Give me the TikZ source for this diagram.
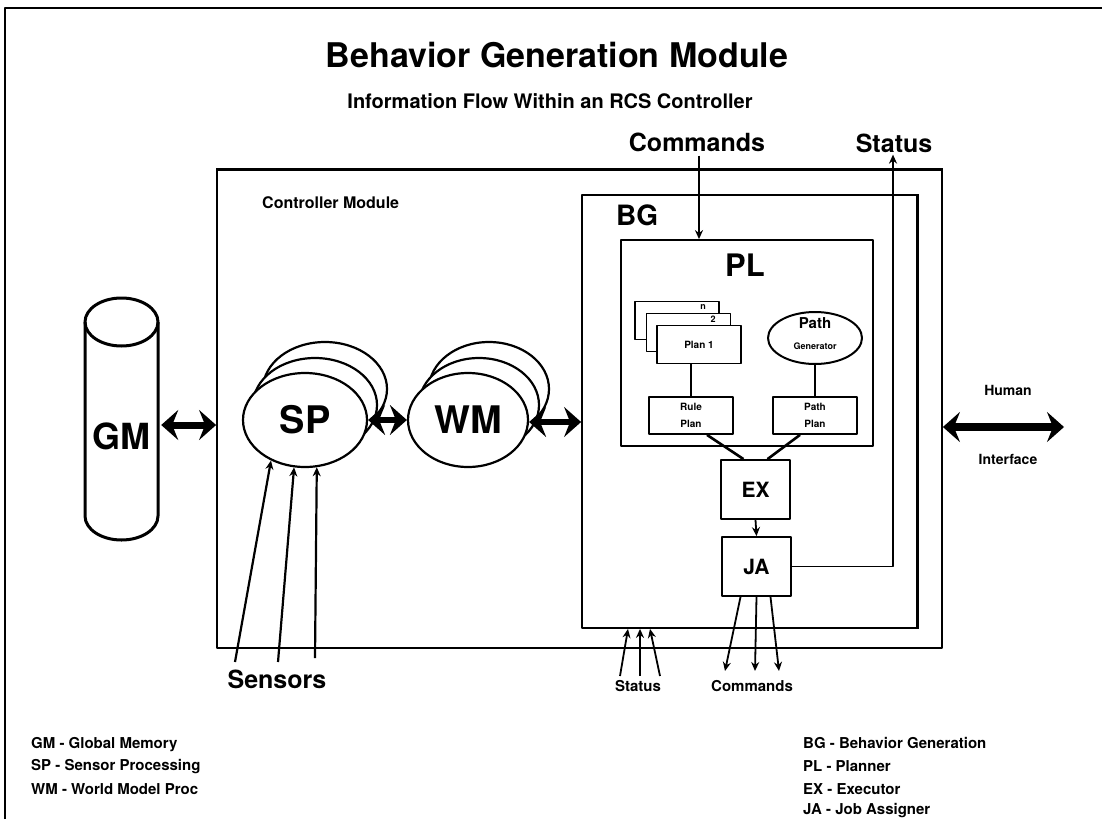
\documentclass[tikz,border=0pt]{standalone}
\usepackage{fontspec}
\setmainfont{TeX Gyre Heros}
\usetikzlibrary{arrows.meta,shapes.geometric,calc}
\newcommand{\hv}[1]{\fontsize{#1}{#1}\selectfont\bfseries}

\begin{document}
\begin{tikzpicture}[x=1pt,y=-1pt, line join=round,
  box/.style={draw, line width=1.8pt, inner sep=0pt, fill=white},
  blob/.style={ellipse, draw, line width=2.2pt, fill=white, inner sep=0pt},
  plainlbl/.style={inner sep=0pt},
  legend/.style={inner sep=0pt, anchor=west, font=\hv{15}},
  thinarrow/.style={line width=1.8pt, -{Stealth[length=9pt,width=8pt]}},
  link/.style={line width=2.6pt},
  fatarrow/.style={line width=7pt, {Stealth[length=17pt,width=30pt,inset=6pt]}-{Stealth[length=17pt,width=30pt,inset=6pt]}},
]
% canvas
\fill[white] (0,0) rectangle (1102,819);
\useasboundingbox (0,0) rectangle (1102,819);
\draw[line width=1.4pt] (5,819) -- (5,8) -- (1102,8);

% titles
\node[plainlbl, font=\hv{34}] (title) at (557,55) {Behavior Generation Module};
\node[plainlbl, font=\hv{20}] (subtitle) at (550,101) {Information Flow Within an RCS Controller};

% controller module frame
\node[box, fill=none, minimum width=725pt, minimum height=478pt] (ctrl) at (579.5,409) {};
\draw[line width=2.8pt] (ctrl.north west) -- (ctrl.north east);
\node[plainlbl, font=\hv{16}, anchor=west] (ctrllbl) at (262,203) {Controller Module};

% behaviour generation box
\node[box, minimum width=335pt, minimum height=433pt] (bg) at (749.5,411.5) {};
\draw[line width=2.6pt] (bg.north east) -- (bg.south east);
\node[plainlbl, font=\hv{28}, anchor=west] (bglbl) at (616,215) {BG};

% planner
\node[box, minimum width=252pt, minimum height=206pt] (pl) at (747,343) {};
\node[plainlbl, font=\hv{31}] (pllbl) at (745,265) {PL};

% stacked plans
\node[box, minimum width=84pt, minimum height=38pt] (plann) at (677,320.5) {};
\node[box, minimum width=84pt, minimum height=38pt] (plan2) at (688.5,332.5) {};
\node[box, minimum width=84pt, minimum height=38pt, font=\hv{10}] (plan1) at (699,344.5) {Plan 1};
\node[plainlbl, font=\hv{9}] (nlbl) at (703,307) {n};
\node[plainlbl, font=\hv{9}] (twolbl) at (713,319) {2};

% path generator
\node[blob, line width=2pt, minimum width=94pt, minimum height=52pt] (pathgen) at (815,338) {};
\node[plainlbl, font=\hv{15}] (pathgenA) at (815,323) {Path};
\node[plainlbl, font=\hv{9}] (pathgenB) at (815,346) {Generator};

% plan boxes
\node[box, minimum width=84pt, minimum height=37pt, align=center, font=\hv{10}] (rule) at (691,415.5) {Rule\\[7pt]Plan};
\node[box, minimum width=84pt, minimum height=37pt, align=center, font=\hv{10}] (pathplan) at (815,415.5) {Path\\[7pt]Plan};
\draw[link] (rule.north) -- (rule.north |- plan1.south);
\draw[link] (pathplan.north) -- (pathgen.south);

% executor and job assigner
\node[box, minimum width=69pt, minimum height=59pt, font=\hv{21}] (ex) at (755.5,489.5) {EX};
\node[box, minimum width=69pt, minimum height=59pt, font=\hv{21}] (ja) at (756.5,566.5) {JA};
\draw[link] ($(rule.south)+(16,0)$) -- ($(ex.north)+(-12,0)$);
\draw[link] ($(pathplan.south)+(-15,0)$) -- ($(ex.north)+(12,0)$);
\draw[thinarrow] (ex.south) -- (ja.north);

% commands in, status out at the top
\node[plainlbl, font=\hv{25}] (cmdtop) at (697,142) {Commands};
\node[plainlbl, font=\hv{25}] (stattop) at (894,143) {Status};
\coordinate (cmdin) at ($(cmdtop.south)+(2,4)$);
\draw[thinarrow] (cmdin) -- (cmdin |- pl.north);
\coordinate (statup) at ($(stattop.south)+(-1,2)$);
\draw[thinarrow] (ja.east) -| (statup);

% global memory cylinder
\node[minimum width=73pt, minimum height=230pt, inner sep=0pt] (gm) at (121.5,425) {};
\draw[line width=3pt, fill=white] (85,322) -- (85,516) arc[start angle=180, end angle=360, x radius=36.5pt, y radius=24pt] -- (158,322);
\draw[line width=3pt] (121.5,322) ellipse[x radius=36.5pt, y radius=24pt];
\node[plainlbl, font=\hv{36}] (gmlbl) at (121,436) {GM};
\draw[fatarrow] ($(gm.east)+(3,0)$) -- (gm.east -| ctrl.west);

% sensor processing
\node[blob, minimum width=124pt, minimum height=94pt] (sp3) at (325,389) {};
\node[blob, minimum width=124pt, minimum height=94pt] (sp2) at (315,405) {};
\node[blob, minimum width=124pt, minimum height=94pt, font=\hv{38}] (sp) at (305,420) {SP};

% world model
\node[blob, minimum width=120pt, minimum height=94pt] (wm3) at (489,389) {};
\node[blob, minimum width=120pt, minimum height=94pt] (wm2) at (479,405) {};
\node[blob, minimum width=120pt, minimum height=94pt, font=\hv{38}] (wm) at (468,420) {WM};

\draw[fatarrow, line width=6pt] (sp.east) -- (wm.west);
\coordinate (wmout) at ($(wm.east)+(0,2)$);
\draw[fatarrow, line width=6pt] (wmout) -- (wmout -| bg.west);

% sensors
\coordinate (s1) at (235,662);
\coordinate (s2) at (278,662);
\coordinate (s3) at (315,658);
\draw[thinarrow, line width=2.2pt] (s1) -- (sp.230);
\draw[thinarrow, line width=2.2pt] (s2) -- (sp.257);
\draw[thinarrow, line width=2.2pt] (s3) -- (sp.284);
\node[plainlbl, font=\hv{25}] (sensors) at (277,679) {Sensors};

% status from below
\coordinate (b1) at (620,676);
\coordinate (b2) at (640,676);
\coordinate (b3) at (660,676);
\draw[thinarrow] (b1) -- (628,0 |- bg.south);
\draw[thinarrow] (b2) -- (640,0 |- bg.south);
\draw[thinarrow] (b3) -- (650,0 |- bg.south);
\node[plainlbl, font=\hv{15}] (statbot) at (638,686) {Status};

% commands to below
\coordinate (c1) at (725,671);
\coordinate (c2) at (755,671);
\coordinate (c3) at (779,671);
\draw[thinarrow] ($(ja.south)+(-16,0)$) -- (c1);
\draw[thinarrow] (ja.south) -- (c2);
\draw[thinarrow] ($(ja.south)+(14,0)$) -- (c3);
\node[plainlbl, font=\hv{15}] (cmdbot) at (752,686) {Commands};

% human interface
\coordinate (hi) at (1064,427);
\draw[fatarrow, line width=8pt] (ctrl.east |- hi) -- (hi);
\node[plainlbl, font=\hv{14}] (human) at (1008,390) {Human};
\node[plainlbl, font=\hv{14}] (iface) at (1008,459) {Interface};

% legends
\node[legend] (lgm) at (31,745) {GM - Global Memory};
\node[legend] (lsp) at (31,767) {SP - Sensor Processing};
\node[legend] (lwm) at (31,789) {WM - World Model Proc};
\node[legend] (lbg) at (803,743) {BG - Behavior Generation};
\node[legend] (lpl) at (803,766) {PL - Planner};
\node[legend] (lex) at (803,789) {EX - Executor};
\node[legend] (lja) at (803,811) {JA - Job Assigner};
\end{tikzpicture}
\end{document}
